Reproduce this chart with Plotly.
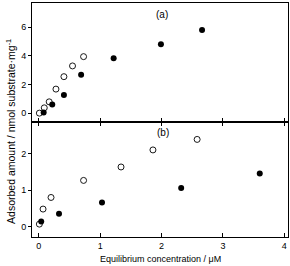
import plotly.graph_objects as go

# Panel (a)
a_open_x = [0.01, 0.09, 0.17, 0.28, 0.41, 0.55, 0.73]
a_open_y = [0.0, 0.37, 0.79, 1.68, 2.55, 3.30, 3.95]
a_fill_x = [0.08, 0.22, 0.41, 0.69, 1.22, 1.99, 2.66]
a_fill_y = [0.05, 0.61, 1.26, 2.69, 3.84, 4.82, 5.82]

# Panel (b)
b_open_x = [0.01, 0.07, 0.20, 0.73, 1.34, 1.86, 2.58]
b_open_y = [0.065, 0.48, 0.80, 1.27, 1.64, 2.11, 2.40]
b_fill_x = [0.04, 0.33, 1.03, 2.32, 3.60]
b_fill_y = [0.14, 0.35, 0.66, 1.06, 1.46]

x_ticks = [0, 1, 2, 3, 4]
ya_ticks = [0, 2, 4, 6]
yb_ticks = [0, 1, 2]

font = dict(family="Liberation Sans, Arial, sans-serif", size=9, color="black")

open_m = dict(symbol="circle-open", size=6, color="black", line=dict(width=0.9, color="black"))
fill_m = dict(symbol="circle", size=6, color="black", line=dict(width=0))

fig = go.Figure()
fig.add_trace(go.Scatter(x=a_open_x, y=a_open_y, mode="markers", marker=open_m, xaxis="x", yaxis="y"))
fig.add_trace(go.Scatter(x=a_fill_x, y=a_fill_y, mode="markers", marker=fill_m, xaxis="x", yaxis="y"))
fig.add_trace(go.Scatter(x=b_open_x, y=b_open_y, mode="markers", marker=open_m, xaxis="x2", yaxis="y2"))
fig.add_trace(go.Scatter(x=b_fill_x, y=b_fill_y, mode="markers", marker=fill_m, xaxis="x2", yaxis="y2"))

split = 115 / 234

common_x = dict(range=[-0.11, 4.06], tickvals=x_ticks, showline=True, linecolor="black", linewidth=1,
                ticks="inside", ticklen=4, tickcolor="black", showgrid=False, zeroline=False)
common_y = dict(showline=True, linecolor="black", linewidth=1, ticks="outside", ticklen=3,
                tickcolor="black", showgrid=False, zeroline=False, mirror=True)

fig.update_layout(
    width=290, height=266,
    margin=dict(l=32, r=2, t=3, b=29),
    paper_bgcolor="white", plot_bgcolor="white",
    showlegend=False, font=font,
    xaxis=dict(**common_x, anchor="y", showticklabels=False, mirror=True, domain=[0, 1]),
    yaxis=dict(**common_y, range=[-0.62, 7.7], tickvals=ya_ticks, domain=[split, 1], anchor="x"),
    xaxis2=dict(**common_x, anchor="y2", mirror="ticks", domain=[0, 1], matches="x"),
    yaxis2=dict(**common_y, range=[-0.29, 2.88], tickvals=yb_ticks, domain=[0, split], anchor="x2"),
    annotations=[
        dict(text="(a)", xref="x", yref="y", x=2.0, y=6.9, showarrow=False, font=dict(family=font["family"], size=10)),
        dict(text="(b)", xref="x2", yref="y2", x=2.02, y=2.6, showarrow=False, font=dict(family=font["family"], size=10)),
        dict(text="Equilibrium concentration / μM", xref="paper", yref="paper",
             x=0.5, y=-0.094, showarrow=False, xanchor="center", yanchor="middle", font=font),
        dict(text="Adsorbed amount / nmol substrate·mg<sup>-1</sup>", xref="paper", yref="paper",
             x=-0.085, y=0.45, textangle=-90, showarrow=False, xanchor="center", yanchor="middle",
             font=dict(family=font["family"], size=10.5, color="black")),
    ],
)

fig.write_html("out.html", config={"displayModeBar": False},
               post_script="document.body.style.margin='0';")
